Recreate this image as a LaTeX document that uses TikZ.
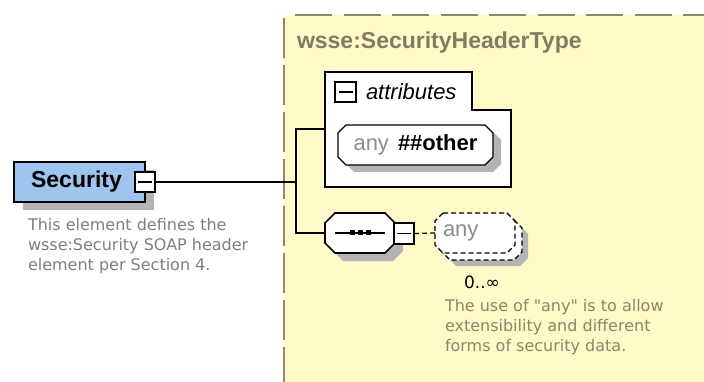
\documentclass[tikz,border=0pt]{standalone}
\usepackage{fontspec}
\setmainfont{Liberation Sans}
\newfontfamily\descfont{DejaVu Sans}
\usetikzlibrary{calc,shadows}
\pgfdeclarelayer{bg}
\pgfsetlayers{bg,main}

\definecolor{bgyellow}{HTML}{FFFAC8}
\definecolor{grpline}{HTML}{8C8A6E}
\definecolor{titlecol}{HTML}{7F7D60}
\definecolor{desccol}{HTML}{8A8866}
\definecolor{leftdesc}{HTML}{7F7F7F}
\definecolor{secblue}{HTML}{9FC5EE}
\definecolor{shadowcol}{HTML}{B4B4B4}
\definecolor{anygray}{HTML}{8C8C8C}

\newcommand{\myfs}[1]{\fontsize{#1}{#1}\selectfont}
% octagon around a named node: name, cut, dx, dy, style
\newcommand{\octo}[5]{\path[#5]
 ($(#1.north west)+(#2+#3,#4)$) -- ($(#1.north east)+(-#2+#3,#4)$) --
 ($(#1.north east)+(#3,#2+#4)$) -- ($(#1.south east)+(#3,-#2+#4)$) --
 ($(#1.south east)+(-#2+#3,#4)$) -- ($(#1.south west)+(#2+#3,#4)$) --
 ($(#1.south west)+(#3,-#2+#4)$) -- ($(#1.north west)+(#3,#2+#4)$) -- cycle;}

\tikzset{
  conn/.style={line width=1.6pt, black},
  boxline/.style={draw=black, line width=1.6pt},
  minusbox/.style={draw=black, fill=white, line width=1.3pt, minimum width=20pt, minimum height=20pt, inner sep=0pt, outer sep=0pt},
  minusline/.style={line width=1.2pt, black},
  frame/.style={inner sep=0pt, outer sep=0pt},
  plain/.style={inner sep=0pt, outer sep=0pt}
}

\begin{document}
\begin{tikzpicture}[x=1pt,y=-1pt]
\useasboundingbox (0,0) rectangle (704,382);

% ---------- group background ----------
\begin{pgfonlayer}{bg}
\fill[white] (0,0) rectangle (704,382);
\fill[bgyellow] (284,15) rectangle (704,382);
\draw[grpline, line width=1.8pt, dash pattern=on 37pt off 11.5pt] (295,15) -- (704,15);
\draw[grpline, line width=1.8pt, dash pattern=on 40pt off 7pt] (284,18) -- (284,382);
\end{pgfonlayer}

\node[plain, anchor=west, text=titlecol, font=\myfs{23}\bfseries] (title) at (297,43) {wsse:SecurityHeaderType};

% ---------- Security element ----------
\node[draw=black, line width=1.8pt, fill=secblue, minimum width=131pt, minimum height=40pt, inner sep=0pt,
      drop shadow={shadow xshift=9pt, shadow yshift=-8pt, fill=shadowcol, opacity=1},
      font=\myfs{23}\bfseries] (sec) at (79.5,182) {\hspace*{-6pt}Security};
\node[minusbox] (secminus) at (145,182) {};
\draw[minusline] ($(secminus.center)+(-7,0)$) -- ($(secminus.center)+(7,0)$);

\node[plain, anchor=north west, align=left, text=leftdesc, font=\descfont\fontsize{16}{20}\selectfont] (secdesc) at (28,218)
  {This element defines the\\wsse:Security SOAP header\\element per Section 4.};

% ---------- attributes box ----------
\coordinate (attrL) at (325,129);
\begin{pgfonlayer}{bg}
\draw[boxline, fill=white] (325,72) -- (472,72) -- (472,110) -- (511,110) -- (511,187) -- (325,187) -- cycle;
\end{pgfonlayer}
\node[minusbox, minimum width=21pt] (attrminus) at (345.5,92) {};
\draw[minusline] ($(attrminus.center)+(-7,0)$) -- ($(attrminus.center)+(7,0)$);
\node[plain, anchor=west, font=\myfs{22}\itshape] (attrlabel) at (366,92) {attributes};

% any ##other
\node[frame, minimum width=155pt, minimum height=40pt] (anyother) at (415.5,145)
  {{\myfs{22}\color{anygray}any}\hspace{9pt}{\myfs{22}\bfseries \#\#other}};
\begin{pgfonlayer}{bg}
\octo{anyother}{8}{8}{7}{fill=shadowcol}
\octo{anyother}{8}{0}{0}{fill=white, draw=black, line width=1.4pt}
\end{pgfonlayer}

% ---------- sequence ----------
\node[frame, minimum width=70pt, minimum height=40pt] (seq) at (360,233) {};
\begin{pgfonlayer}{bg}
\octo{seq}{10}{8}{8}{fill=shadowcol}
\octo{seq}{10}{0}{0}{fill=white, draw=black, line width=1.6pt}
\end{pgfonlayer}
\draw[line width=1.4pt] ($(seq.center)+(-25,0)$) -- ($(seq.center)+(25,0)$);
\foreach \dx in {-8,0,8}
  \fill ($(seq.center)+(\dx-2.5,-2.5)$) rectangle ++(5,5);
\node[minusbox, minimum height=21pt] (seqminus) at (404,233.5) {};
\draw[minusline] ($(seqminus.center)+(-7,0)$) -- ($(seqminus.center)+(7,0)$);

% ---------- any (optional, unbounded) ----------
\node[frame, minimum width=80pt, minimum height=40pt] (anyback) at (482,240) {};
\node[frame, minimum width=80pt, minimum height=40pt, text width=64pt, align=left,
      text=anygray, font=\myfs{22}] (anyel) at (475,233) {any};
\begin{pgfonlayer}{bg}
\octo{anyback}{8}{6}{6}{fill=shadowcol}
\octo{anyback}{8}{0}{0}{fill=white, draw=black, line width=1.2pt, dash pattern=on 5pt off 3pt}
\octo{anyel}{8}{0}{0}{fill=white, draw=black, line width=1.2pt, dash pattern=on 5pt off 3pt}
\end{pgfonlayer}

\node[plain, font=\descfont\myfs{17}] (mult) at (482,282) {0..∞};
\node[plain, anchor=north west, align=left, text=desccol, font=\descfont\fontsize{16}{20}\selectfont] (anydesc) at (445,299)
  {The use of "any" is to allow\\extensibility and different\\forms of security data.};

% ---------- connectors ----------
\coordinate (jn) at (296,182);
\draw[conn] (secminus.east) -- (jn);
\draw[conn] (attrL) -| (jn);
\draw[conn] (seq.west) -| (jn);
\draw[line width=1.2pt, dash pattern=on 5pt off 3pt] (seqminus.east) -- (anyel.west);

\end{tikzpicture}
\end{document}
